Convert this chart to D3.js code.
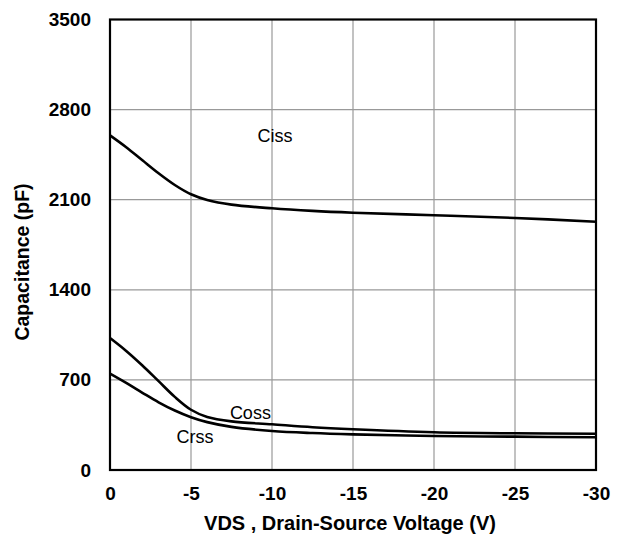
<!DOCTYPE html>
<html>
<head>
<meta charset="utf-8">
<script src="https://cdn.jsdelivr.net/npm/d3@7"></script>
<style>
  html, body { margin: 0; padding: 0; background: #fff; }
  svg { display: block; }
  text { font-family: "Liberation Sans", Arial, sans-serif; fill: #000; }
</style>
</head>
<body>
<svg id="chart" width="621" height="534"></svg>
<script>
// Drain-source voltage (V) sample points
const vds = [0, -1, -2, -3, -4, -5, -6, -7.5, -10, -12.5, -15, -20, -25, -30];
// Capacitance curves (pF)
const ciss = [2600, 2508, 2406, 2305, 2214, 2142, 2098, 2062, 2033, 2013, 1999, 1979, 1958, 1929];
const coss = [1025, 925, 812, 690, 568, 468, 412, 378, 355, 332, 316, 293, 285, 282];
const crss = [748, 676, 600, 526, 462, 410, 372, 335, 303, 287, 277, 264, 259, 254];

const seriesNames = ["Ciss", "Coss", "Crss"];
const seriesValues = [ciss, coss, crss];

// Curve annotations, in data units (V, pF)
const labelNames = ["Ciss", "Coss", "Crss"];
const labelVds = [-9.1, -7.4, -4.1];
const labelCap = [2551, 396, 212];

const xTicks = [0, -5, -10, -15, -20, -25, -30];
const yTicks = [0, 700, 1400, 2100, 2800, 3500];

const svg = d3.select("#chart");
const plotLeft = 110, plotRight = 596, plotTop = 19.5, plotBottom = 470;

const x = d3.scaleLinear().domain([0, -30]).range([plotLeft, plotRight]);
const y = d3.scaleLinear().domain([0, 3500]).range([plotBottom, plotTop]);

// plain hyphen-minus for negative tick values
const fmt = d => String(d);

// grid
const grid = svg.append("g").attr("stroke", "#999").attr("stroke-width", 1.2);
grid.selectAll("line.v").data(xTicks).join("line")
  .attr("x1", d => x(d)).attr("x2", d => x(d))
  .attr("y1", plotTop).attr("y2", plotBottom);
grid.selectAll("line.h").data(yTicks).join("line")
  .attr("x1", plotLeft).attr("x2", plotRight)
  .attr("y1", d => y(d)).attr("y2", d => y(d));

// frame
svg.append("rect")
  .attr("x", plotLeft).attr("y", plotTop)
  .attr("width", plotRight - plotLeft).attr("height", plotBottom - plotTop)
  .attr("fill", "none").attr("stroke", "#000").attr("stroke-width", 2.2);

// axes (labels only, frame is drawn above)
const xAxis = svg.append("g").attr("transform", `translate(0,${plotBottom})`)
  .call(d3.axisBottom(x).tickValues(xTicks).tickSize(0).tickPadding(17).tickFormat(fmt));
const yAxis = svg.append("g").attr("transform", `translate(${plotLeft},0)`)
  .call(d3.axisLeft(y).tickValues(yTicks).tickSize(0).tickPadding(19).tickFormat(fmt));
[xAxis, yAxis].forEach(a => {
  a.select(".domain").remove();
  a.selectAll("text")
    .style("font-family", "'Liberation Sans', Arial, sans-serif")
    .style("font-size", "19px").style("font-weight", "bold").attr("fill", "#000");
});

// curves
const line = d3.line()
  .x((d, i) => x(vds[i]))
  .y(d => y(d))
  .curve(d3.curveCatmullRom.alpha(0.5));

svg.append("g").selectAll("path").data(seriesValues).join("path")
  .attr("d", line)
  .attr("fill", "none")
  .attr("stroke", "#000")
  .attr("stroke-width", 2.6);

// curve labels
svg.append("g").selectAll("text").data(labelNames).join("text")
  .attr("x", (d, i) => x(labelVds[i]))
  .attr("y", (d, i) => y(labelCap[i]))
  .style("font-size", "18px")
  .text(d => d);

// axis titles
svg.append("text")
  .attr("x", 350).attr("y", 530)
  .attr("text-anchor", "middle")
  .style("font-size", "20px").style("font-weight", "bold")
  .text("VDS , Drain-Source Voltage (V)");

svg.append("text")
  .attr("transform", "translate(29,262) rotate(-90)")
  .attr("text-anchor", "middle")
  .style("font-size", "19.5px").style("font-weight", "bold")
  .text("Capacitance (pF)");
</script>
</body>
</html>
